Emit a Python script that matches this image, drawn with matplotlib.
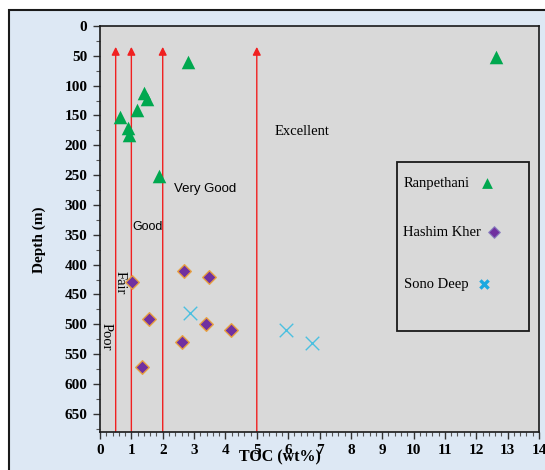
import matplotlib.pyplot as plt
from matplotlib.patches import Rectangle
from matplotlib.ticker import MultipleLocator

# data
ran_toc = [2.82, 12.63, 1.40, 1.49, 1.17, 0.64, 0.90, 0.93, 1.89]
ran_depth = [61, 52, 113, 122, 141, 152, 171, 183, 251]

hk_toc = [1.03, 2.68, 3.48, 1.57, 3.38, 4.17, 2.62, 1.34]
hk_depth = [429, 411, 420, 491, 500, 509, 530, 571]

sono_toc = [2.87, 5.93, 6.75]
sono_depth = [481, 509, 532]

limits = [0.5, 1, 2, 5]
zones = ["Poor", "Fair", "Good", "Very Good", "Excellent"]

serif = "Liberation Serif"

fig = plt.figure(figsize=(5.45, 4.70), dpi=100)
fig.patch.set_facecolor("white")
fig.patches.append(Rectangle((9 / 545, -0.01), 1.0, 1 - 10 / 470 + 0.01,
                             transform=fig.transFigure, facecolor="#dde8f4",
                             edgecolor="#1a1a1a", lw=1.5, zorder=-10))

ax = fig.add_axes([100 / 545, 1 - 431.7 / 470, 439 / 545, 405.7 / 470])
ax.set_facecolor("#d9d9d9")
ax.set_xlim(0, 14)
ax.set_ylim(680, 0)

for s in ax.spines.values():
    s.set_color("#1a1a1a")
    s.set_linewidth(1.2)

# classification arrows
for x in limits:
    ax.annotate("", xy=(x, 35), xytext=(x, 680),
                arrowprops=dict(arrowstyle="-|>", color="#f02020", lw=1.0,
                                mutation_scale=12, shrinkA=0, shrinkB=0),
                zorder=2)

ax.text(0.19, 521, zones[0], rotation=-90, ha="center", va="center",
        family=serif, fontsize=10.5)
ax.text(0.64, 430, zones[1], rotation=-90, ha="center", va="center",
        family=serif, fontsize=10.5)
ax.text(1.02, 337, zones[2], ha="left", va="center",
        family="Liberation Sans", fontsize=9)
ax.text(2.36, 273, zones[3], ha="left", va="center",
        family="Liberation Sans", fontsize=9.5)
ax.text(5.58, 177, zones[4], ha="left", va="center",
        family=serif, fontsize=10.5)

ax.scatter(ran_toc, ran_depth, marker="^", s=95, color="#00a84f", zorder=3,
           linewidths=0)
ax.scatter(hk_toc, hk_depth, marker="D", s=48, color="#7030a0",
           edgecolors="#e8a040", linewidths=1.0, zorder=3)
ax.scatter(sono_toc, sono_depth, marker="x", s=95, color="#4bc0e0",
           linewidths=1.0, zorder=3)

# legend box drawn by hand like the original
ax.add_patch(Rectangle((0.677, 0.248), 0.300, 0.417, transform=ax.transAxes,
                       facecolor="none", edgecolor="#1a1a1a", lw=1.3, zorder=4))
ax.text(0.692, 0.613, "Ranpethani", transform=ax.transAxes, va="center",
        family=serif, fontsize=10.5)
ax.text(0.690, 0.492, "Hashim Kher", transform=ax.transAxes, va="center",
        family=serif, fontsize=10.5)
ax.text(0.692, 0.364, "Sono Deep", transform=ax.transAxes, va="center",
        family=serif, fontsize=10.5)
ax.scatter([0.882], [0.613], marker="^", s=60, color="#00a84f",
           transform=ax.transAxes, linewidths=0, zorder=5)
ax.scatter([0.897], [0.492], marker="D", s=35, color="#7030a0",
           edgecolors="#8a80c0", linewidths=0.8, transform=ax.transAxes, zorder=5)
ax.scatter([0.875], [0.364], marker="x", s=35, color="#1aa8e0",
           linewidths=2.4, transform=ax.transAxes, zorder=5)

ax.xaxis.set_major_locator(MultipleLocator(1))
ax.xaxis.set_minor_locator(MultipleLocator(0.2))
ax.yaxis.set_major_locator(MultipleLocator(50))
ax.yaxis.set_minor_locator(MultipleLocator(25))
ax.set_yticks(range(0, 700, 50))
ax.tick_params(which="major", direction="out", length=5, width=1, color="#333333",
               labelsize=11)
ax.tick_params(which="minor", direction="out", length=3, width=0.8, color="#555555")
ax.tick_params(axis="x", pad=4)
ax.tick_params(axis="y", pad=4)
for lab in ax.get_xticklabels() + ax.get_yticklabels():
    lab.set_family(serif)
    lab.set_fontweight("bold")

ax.set_ylabel("Depth (m)", family=serif, fontweight="bold", fontsize=11)
ax.yaxis.set_label_coords(-0.123, 0.472)
ax.set_xlabel("TOC (wt%)", family=serif, fontweight="bold", fontsize=11.5)
ax.xaxis.set_label_coords(0.41, -0.043)

fig.savefig("out.png", dpi=100)
